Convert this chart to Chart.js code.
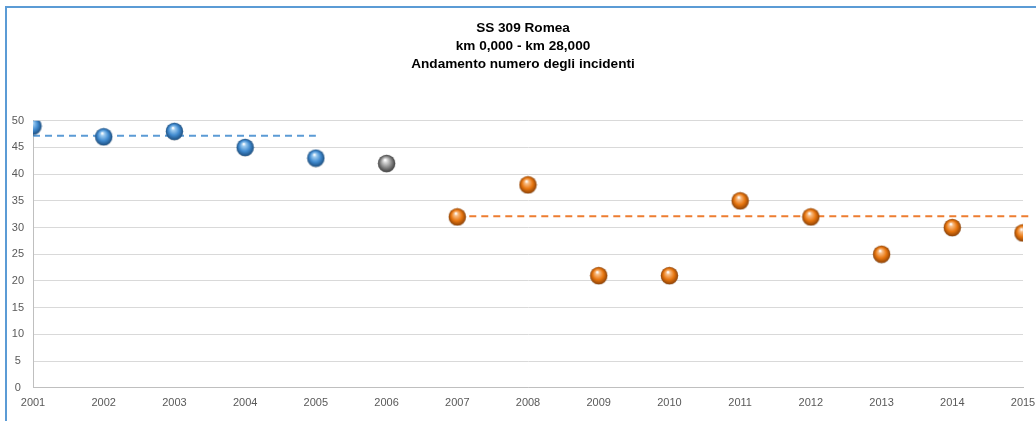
<!DOCTYPE html>
<html>
<head>
<meta charset="utf-8">
<script src="https://cdn.jsdelivr.net/npm/chart.js@4"></script>
<style>
  html, body { margin: 0; padding: 0; background: #fff; overflow: hidden; }
  #wrap { position: relative; width: 1036px; height: 421px; overflow: hidden; }
  #frame {
    position: absolute; left: 5px; top: 6px; width: 1100px; height: 430px;
    border-left: 2px solid #5B9BD5; border-top: 2px solid #5B9BD5; pointer-events: none;
  }
</style>
</head>
<body>
<div id="wrap">
  <canvas id="chart" width="1036" height="421"></canvas>
  <div id="frame"></div>
</div>
<script>
// dati
const anni = [2001, 2002, 2003, 2004, 2005, 2006, 2007, 2008, 2009, 2010, 2011, 2012, 2013, 2014, 2015];
const incidenti = [49, 47, 48, 45, 43, 42, 32, 38, 21, 21, 35, 32, 25, 30, 29];
const gruppi = ['blu', 'blu', 'blu', 'blu', 'blu', 'grigio', 'arancio', 'arancio', 'arancio', 'arancio', 'arancio', 'arancio', 'arancio', 'arancio', 'arancio'];
const titolo = ['SS 309 Romea', 'km 0,000 - km 28,000', 'Andamento numero degli incidenti'];
const yTicks = [0, 5, 10, 15, 20, 25, 30, 35, 40, 45, 50];
const mediaBluAnni = [2001, 2005];
const mediaBlu = [47.2, 47.2];
const mediaArancioAnni = [2007, 2015.1];
const mediaArancio = [32.1, 32.1];

// pallina "3D" come in Excel
function sfera(base, luce, ombra) {
  const size = 19;
  const c = document.createElement('canvas');
  c.width = size; c.height = size;
  const ctx = c.getContext('2d');
  const r = 8.7;
  const cx = size / 2, cy = size / 2;
  ctx.beginPath();
  ctx.arc(cx, cy + 0.6, r, 0, Math.PI * 2);
  ctx.fillStyle = 'rgba(0,0,0,0.18)';
  ctx.fill();
  const g = ctx.createRadialGradient(cx - 1.5, cy - 3.5, 0.5, cx, cy, r);
  g.addColorStop(0, '#ffffff');
  g.addColorStop(0.18, luce);
  g.addColorStop(0.6, base);
  g.addColorStop(1, ombra);
  ctx.beginPath();
  ctx.arc(cx, cy, r, 0, Math.PI * 2);
  ctx.fillStyle = g;
  ctx.fill();
  return c;
}

const sfere = {
  blu: sfera('#418BD0', '#9CCBF0', '#1D4F80'),
  grigio: sfera('#8A8A8A', '#D9D9D9', '#404040'),
  arancio: sfera('#E8760F', '#F8BC84', '#8E4206')
};

const punti = anni.map((a, i) => ({ x: a, y: incidenti[i] }));

const config = {
  type: 'scatter',
  data: {
    datasets: [
      {
        data: punti,
        pointStyle: punti.map((p, i) => sfere[gruppi[i]]),
        pointRadius: 9,
        pointHoverRadius: 9,
        clip: 0,
        order: 0
      },
      {
        type: 'line',
        data: mediaBluAnni.map((a, i) => ({ x: a, y: mediaBlu[i] })),
        borderColor: '#5B9BD5',
        borderWidth: 2,
        borderDash: [7, 5],
        pointRadius: 0,
        clip: false,
        order: 1
      },
      {
        type: 'line',
        data: mediaArancioAnni.map((a, i) => ({ x: a, y: mediaArancio[i] })),
        borderColor: '#ED7D31',
        borderWidth: 2,
        borderDash: [7, 5],
        pointRadius: 0,
        clip: false,
        order: 1
      }
    ]
  },
  options: {
    responsive: false,
    animation: false,
    layout: { padding: { left: 10, right: 0, top: 0, bottom: 2 } },
    plugins: {
      legend: { display: false },
      tooltip: { enabled: false },
      title: {
        display: true,
        text: titolo,
        color: '#000',
        font: { family: 'Liberation Sans, Arial, sans-serif', size: 13.6, weight: 'bold', lineHeight: 1.34 },
        padding: { top: 19, bottom: 47 }
      }
    },
    scales: {
      x: {
        type: 'linear',
        min: 2001,
        max: 2015,
        afterFit: s => { s.paddingRight = 13; s.paddingLeft = 0; },
        grid: { display: false, drawTicks: false },
        border: { display: true, color: '#BFBFBF' },
        ticks: {
          stepSize: 1,
          padding: 9,
          color: '#595959',
          font: { family: 'Liberation Sans, Arial, sans-serif', size: 11 },
          callback: v => String(v)
        }
      },
      y: {
        min: 0,
        max: 50,
        afterFit: s => { s.width = 23; },
        afterBuildTicks: s => { s.ticks = yTicks.map(v => ({ value: v })); },
        grid: { color: '#D9D9D9', drawTicks: false },
        border: { display: true, color: '#BFBFBF' },
        ticks: {
          crossAlign: 'center',
          padding: 9,
          color: '#595959',
          font: { family: 'Liberation Sans, Arial, sans-serif', size: 11 }
        }
      }
    }
  }
};

const canvas = document.getElementById('chart');
const myChart = new Chart(canvas, config);
</script>
</body>
</html>
